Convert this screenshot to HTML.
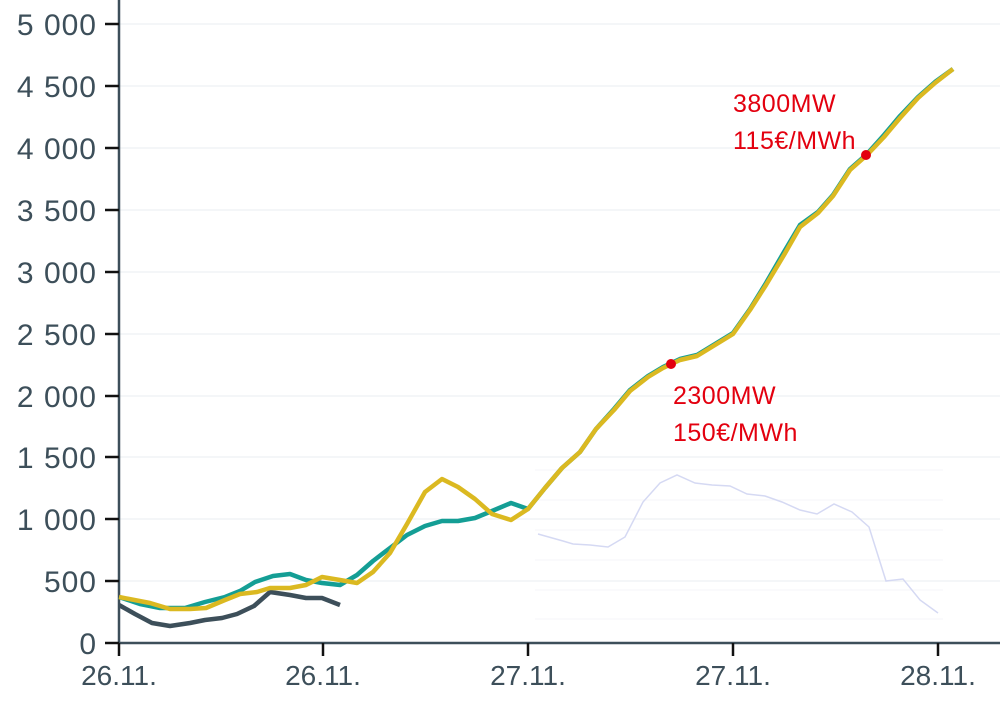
<!DOCTYPE html>
<html><head><meta charset="utf-8"><style>
body{margin:0;background:#fff}
svg{display:block;font-family:"Liberation Sans",sans-serif}
</style></head><body>
<svg width="1000" height="703" viewBox="0 0 1000 703">
<g stroke="#f1f3f5" stroke-width="1.5">
<line x1="119" x2="1000" y1="24" y2="24"/><line x1="119" x2="1000" y1="86" y2="86"/><line x1="119" x2="1000" y1="148" y2="148"/><line x1="119" x2="1000" y1="210" y2="210"/><line x1="119" x2="1000" y1="272" y2="272"/><line x1="119" x2="1000" y1="334" y2="334"/><line x1="119" x2="1000" y1="396" y2="396"/><line x1="119" x2="1000" y1="457" y2="457"/><line x1="119" x2="1000" y1="519" y2="519"/><line x1="119" x2="1000" y1="581" y2="581"/>
</g>
<g stroke="#f6f6f8" stroke-width="1">
<line x1="535" x2="943" y1="470" y2="470"/><line x1="535" x2="943" y1="500" y2="500"/><line x1="535" x2="943" y1="530" y2="530"/><line x1="535" x2="943" y1="560" y2="560"/><line x1="535" x2="943" y1="590" y2="590"/><line x1="535" x2="943" y1="619" y2="619"/>
</g>
<polyline fill="none" stroke="#d5d9f3" stroke-width="1.5" points="538,534 563,541 573,544 590,545 608,547 625,537 643,502 660,483 677,475 695,483 712,485 730,486 747,494 765,496 782,502 800,510 817,514 834,504 852,512 869,527 886,581 903,579 920,600 938,613"/>
<g fill="#3d4f5a" font-size="30" text-anchor="end" letter-spacing="1">
<text x="97" y="35">5 000</text><text x="97" y="97">4 500</text><text x="97" y="159">4 000</text><text x="97" y="221">3 500</text><text x="97" y="283">3 000</text><text x="97" y="345">2 500</text><text x="97" y="407">2 000</text><text x="97" y="468">1 500</text><text x="97" y="530">1 000</text><text x="97" y="592">500</text><text x="97" y="654">0</text>
</g>
<g stroke="#3d4f5a" stroke-width="2.5">
<line x1="119" y1="0" x2="119" y2="643"/><line x1="119" y1="643" x2="1000" y2="643"/>
</g>
<g stroke="#111" stroke-width="2.5">
<line x1="105" x2="119" y1="24" y2="24"/><line x1="105" x2="119" y1="86" y2="86"/><line x1="105" x2="119" y1="148" y2="148"/><line x1="105" x2="119" y1="210" y2="210"/><line x1="105" x2="119" y1="272" y2="272"/><line x1="105" x2="119" y1="334" y2="334"/><line x1="105" x2="119" y1="396" y2="396"/><line x1="105" x2="119" y1="457" y2="457"/><line x1="105" x2="119" y1="519" y2="519"/><line x1="105" x2="119" y1="581" y2="581"/><line x1="105" x2="119" y1="643" y2="643"/>
<line x1="119" x2="119" y1="643" y2="656"/><line x1="323" x2="323" y1="643" y2="656"/><line x1="528" x2="528" y1="643" y2="656"/><line x1="733" x2="733" y1="643" y2="656"/><line x1="938" x2="938" y1="643" y2="656"/>
</g>
<g fill="#3d4f5a" font-size="28" text-anchor="middle">
<text x="119" y="685">26.11.</text><text x="323" y="685">26.11.</text><text x="528" y="685">27.11.</text><text x="733" y="685">27.11.</text><text x="938" y="685">28.11.</text>
</g>
<polyline fill="none" stroke="#3d4f5a" stroke-width="4.5" stroke-linejoin="round" points="119,605 135,614 152,623 170,626 190,623 205,620 222,618 237,614 254,606 270,592 290,595 306,598 322,598 340,605"/>
<polyline fill="none" stroke="#149e95" stroke-width="4.5" stroke-linejoin="round" points="119,597 140,604 160,608 185,608 205,602 225,597 240,591 255,582 273,576 290,574 306,580 322,583 340,585 357,575 373,561 390,548 407,535 425,526 442,521 458,521 475,518 492,511 511,503 528,509 545,488 562,468 580,452 596,429 614,409 630,390 648,376 663,367 680,359 697,355 715,344 733,333 750,309 766,283 784,252 800,225 818,212 833,195 850,169 867,154 884,135 900,116 918,97 935,82 953,69"/>
<polyline fill="none" stroke="#dbb921" stroke-width="4.5" stroke-linejoin="round" points="119,597 150,603 170,609 190,609 206,608 225,600 240,594 257,592 270,588 290,588 306,585 322,577 340,580 357,583 373,572 390,553 407,524 425,492 442,479 458,487 475,499 492,514 511,520 528,509 545,488 562,468 580,452 596,429 614,410 630,391 648,377 663,368 680,360 697,356 715,345 733,334 750,310 766,285 784,255 800,227 818,213 833,196 850,170 867,155 884,137 900,118 918,98 935,83 953,69"/>
<circle cx="671" cy="364" r="5" fill="#e3000f"/><circle cx="866" cy="155" r="5" fill="#e3000f"/>
<g fill="#e3000f" font-size="25" letter-spacing="0.5">
<text x="733" y="112">3800MW</text><text x="733" y="149">115€/MWh</text>
<text x="673" y="404">2300MW</text><text x="673" y="441">150€/MWh</text>
</g>
</svg>
</body></html>
